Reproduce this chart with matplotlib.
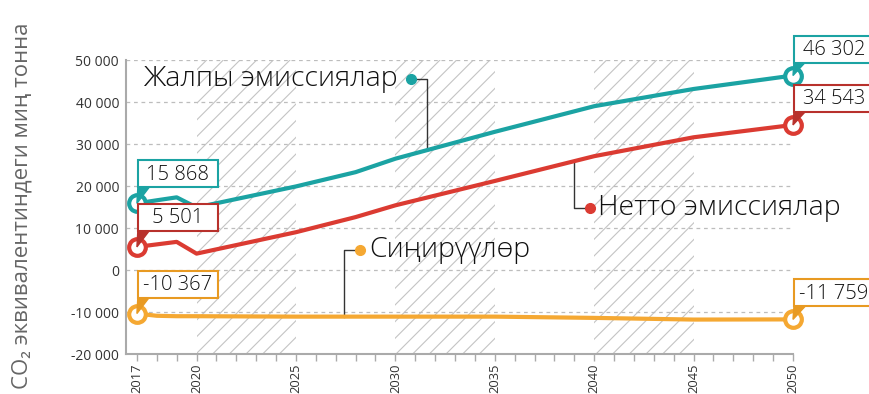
import numpy as np
import matplotlib
matplotlib.use("Agg")
import matplotlib.pyplot as plt
from matplotlib.patches import Rectangle, Polygon

plt.rcParams['font.family'] = ['Open Sans', 'DejaVu Sans']
plt.rcParams['hatch.linewidth'] = 0.8

# data
years = [2017, 2018, 2019, 2020, 2025, 2028, 2030, 2035, 2040, 2045, 2050]
gross = [15868, 16600, 17300, 14900, 19900, 23300, 26500, 32900, 39000, 43100, 46302]
net = [5501, 6100, 6700, 3900, 9000, 12600, 15400, 21200, 27100, 31600, 34543]
sinks = [-10367, -10900, -11000, -11000, -11100, -11100, -11100, -11100, -11400, -11800, -11759]

series_names = ['Жалпы эмиссиялар', 'Нетто эмиссиялар', 'Сиңирүүлөр']
start_labels = ['15 868', '5 501', '-10 367']
end_labels = ['46 302', '34 543', '-11 759']
hatch_spans = [(2020, 2025), (2030, 2035), (2040, 2045)]
x_labels = [2017, 2020, 2025, 2030, 2035, 2040, 2045, 2050]
y_ticks = [-20000, -10000, 0, 10000, 20000, 30000, 40000, 50000]

teal = '#1ba3a3'
red = '#db3b32'
orange = '#f5a832'
box_edges = ['#1ba3a3', '#b8312c', '#e89a22']

fig = plt.figure(figsize=(8.7, 3.94), dpi=100)
ax = fig.add_axes([0.1448, 0.1015, 0.7667, 0.7462])
ax.set_xlim(2016.45, 2050)
ax.set_ylim(-20000, 50000)

for a, b in hatch_spans:
    ax.axvspan(a, b, facecolor='none', edgecolor='#c4c4c4', hatch='//', lw=0, zorder=0)

ax.set_yticks(y_ticks)
ax.set_yticklabels(['{:,}'.format(v).replace(',', ' ') for v in y_ticks])
ax.grid(axis='y', color='#bdbdbd', linestyle=(0, (3, 3)), linewidth=0.9, zorder=1)
ax.set_xticks(range(2017, 2051))
ax.set_xticklabels([str(y) if y in x_labels else '' for y in range(2017, 2051)], rotation=90)
ax.tick_params(axis='x', length=5, color='#aaaaaa', width=1, labelsize=9.3, labelcolor='#333333', pad=2)
ax.tick_params(axis='y', length=0, labelsize=10, labelcolor='#333333', pad=5)
for s in ['top', 'right']:
    ax.spines[s].set_visible(False)
for s in ['left', 'bottom']:
    ax.spines[s].set_color('#aaaaaa')
    ax.spines[s].set_linewidth(1.5)

all_series = [gross, net, sinks]
colors = [teal, red, orange]
for vals, c in zip(all_series, colors):
    ax.plot(years, vals, color=c, lw=3, zorder=3, solid_capstyle='round')
    ax.plot([years[0], years[-1]], [vals[0], vals[-1]], 'o', ms=12, mfc='white',
            mec=c, mew=3, zorder=6, clip_on=False)

# series labels with leader lines: (dot x, dot y, elbow x, text x)
label_pos = [(2030.8, 45500, 2031.6, 2017.3), (2039.8, 14800, 2039.0, 2040.2),
             (2028.2, 4800, 2027.4, 2028.7)]
for (dx, dy, ex, tx), vals, c, name in zip(label_pos, all_series, colors, series_names):
    ey = np.interp(ex, years, vals)
    ax.plot([dx, ex, ex], [dy, dy, ey], color='#333333', lw=1, zorder=2)
    ax.plot(dx, dy, 'o', color=c, ms=7, zorder=4)
    ax.text(tx, dy, name, fontsize=20.5, fontweight='light', va='center', ha='left',
            color='#111111')

# value boxes drawn in pixel space above the end markers
fig.canvas.draw()
def value_box(x, y, text, edge, dy):
    px, py = ax.transData.transform((x, y))
    left, bottom, w, h = px + 1, py + dy, 80, 27
    fig.patches.append(Polygon([(left, bottom + 1), (left + 12, bottom + 1), (px, py)],
                               closed=True, fc=edge, ec=edge, transform=None, zorder=4))
    fig.patches.append(Rectangle((left, bottom), w, h, fc='white', ec=edge, lw=1.5,
                                 transform=None, zorder=5))
    fig.text(left + w / 2, bottom + h / 2 - 1, text, transform=None, ha='center',
             va='center', fontsize=14.5, fontweight='light', color='#111111', zorder=6)

for vals, lab_s, lab_e, edge in zip(all_series, start_labels, end_labels, box_edges):
    value_box(years[0], vals[0], lab_s, edge, 16)
    value_box(years[-1], vals[-1], lab_e, edge, 13)

fig.text(22 / 870, 0.477, 'CO₂ эквивалентиндеги миң тонна', rotation=90, ha='center',
         va='center', fontsize=16, color='#666666')

fig.savefig('out.png', dpi=100)
